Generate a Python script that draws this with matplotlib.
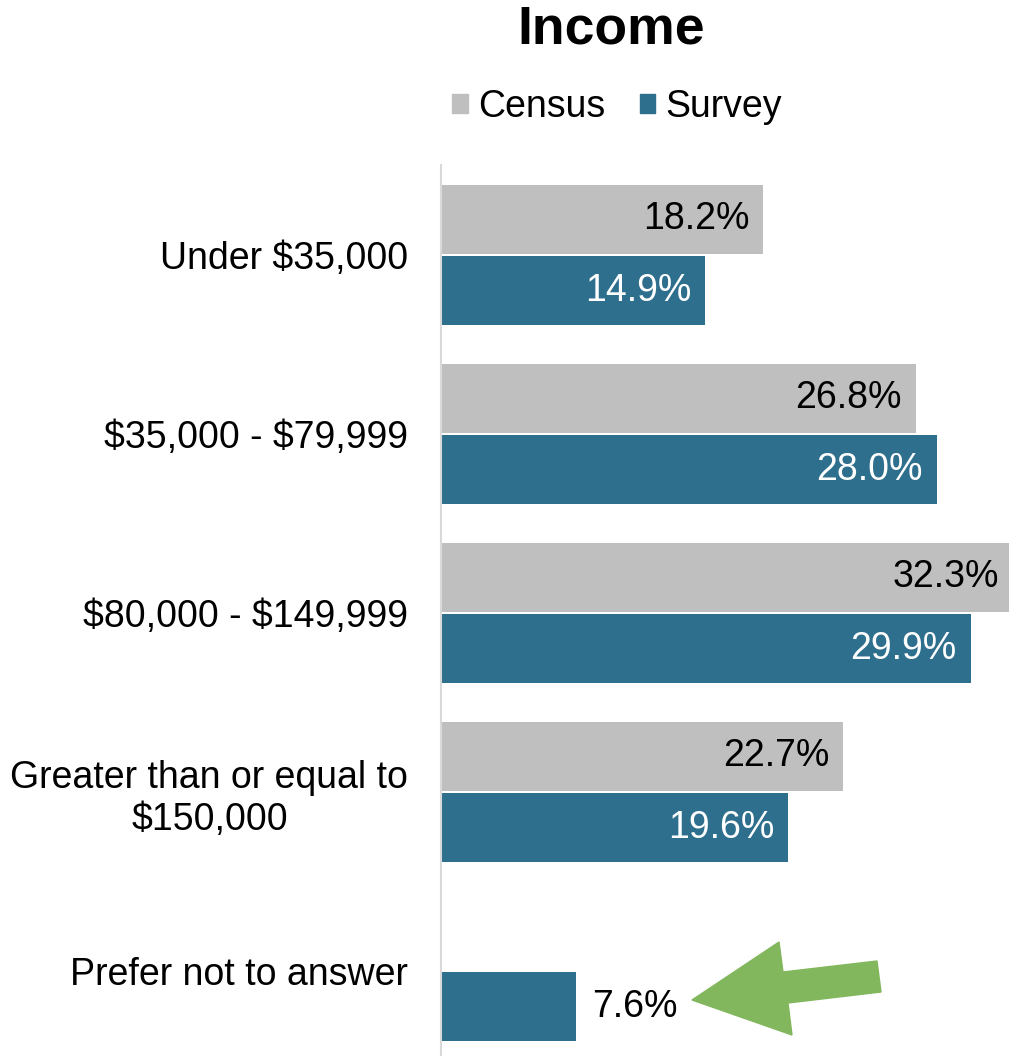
import numpy as np
import matplotlib
matplotlib.use("Agg")
import matplotlib.pyplot as plt
from matplotlib.patches import Patch, Polygon

plt.rcParams['font.family'] = ['Liberation Sans', 'DejaVu Sans']
plt.rcParams['text.parse_math'] = False

categorias = ["Under $35,000", "$35,000 - $79,999", "$80,000 - $149,999",
              "Greater than or equal to\n$150,000", "Prefer not to answer"]
census = [18.2, 26.8, 32.3, 22.7, np.nan]
survey = [14.9, 28.0, 29.9, 19.6, 7.6]

gris = '#BFBFBF'
azul = '#2E6F8E'
verde = '#82B75E'

W, H = 1009, 1056
fig = plt.figure(figsize=(W / 100, H / 100), dpi=100)
ax = fig.add_axes([441 / W, 0, 568 / W, (H - 165) / H])

y = np.arange(len(categorias))
alto = 0.385
ax.barh(y - 0.2, census, height=alto, color=gris)
ax.barh(y + 0.2, survey, height=alto, color=azul)

fs = 27
# etiquetas de valores
for i, v in enumerate(census):
    if not np.isnan(v):
        ax.annotate(f"{v:.1f}%", (v, y[i] - 0.2), xytext=(-10, 0), textcoords='offset points',
                    ha='right', va='center', fontsize=fs, color='black', annotation_clip=False)
for i, v in enumerate(survey):
    if v > 10:
        ax.annotate(f"{v:.1f}%", (v, y[i] + 0.2), xytext=(-10, 0), textcoords='offset points',
                    ha='right', va='center', fontsize=fs, color='white', annotation_clip=False)
    else:
        ax.annotate(f"{v:.1f}%", (v, y[i] + 0.2), xytext=(12, 0), textcoords='offset points',
                    ha='left', va='center', fontsize=fs, color='black', annotation_clip=False)

ax.set_xlim(0, 32.07)
ax.set_ylim(4.475, -0.503)
ax.set_yticks(y)
ax.set_yticklabels(categorias, fontsize=fs, multialignment='center')
ax.tick_params(axis='y', length=0, pad=23.5)
ax.set_xticks([])
for s in ['top', 'right', 'bottom']:
    ax.spines[s].set_visible(False)
ax.spines['left'].set_color('#D9D9D9')
ax.spines['left'].set_linewidth(1.5)

fig.text(611 / W, 1 - 30 / H, "Income", ha='center', va='center', fontsize=38.5, fontweight='bold')

manijas = [Patch(color=gris, label='Census'), Patch(color=azul, label='Survey')]
fig.legend(handles=manijas, loc='center', bbox_to_anchor=(617 / W, 1 - 107 / H), ncol=2,
           frameon=False, fontsize=fs, handlelength=0.41, handleheight=0.41,
           handletextpad=0.27, columnspacing=0.92)

# flecha verde
puntos = [(692, 1000), (779, 942), (783, 972), (877, 961), (881, 992), (788, 1003), (792, 1035)]
flecha = Polygon([(px / W, 1 - py / H) for px, py in puntos], closed=True,
                 transform=fig.transFigure, color=verde, zorder=5)
fig.patches.append(flecha)

fig.savefig("out.png", dpi=100)
